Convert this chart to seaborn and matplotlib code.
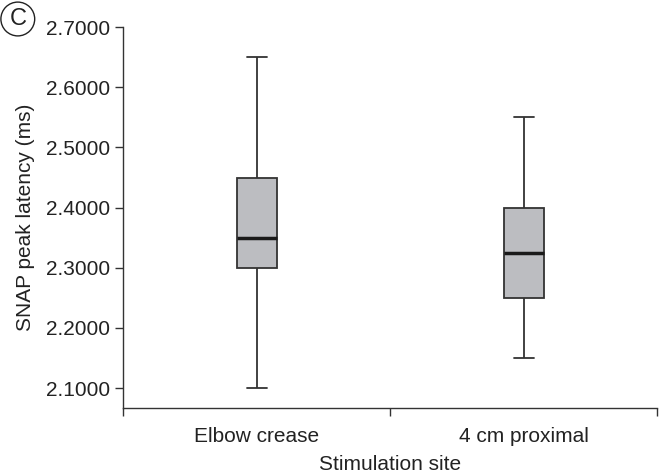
import numpy as np
import pandas as pd
import seaborn as sns
import matplotlib.pyplot as plt

sites = ["Elbow crease", "4 cm proximal"]
# five-number summaries: min, Q1, median, Q3, max
elbow_vals = [2.10, 2.30, 2.35, 2.45, 2.65]
proximal_vals = [2.15, 2.25, 2.325, 2.40, 2.55]
y_ticks = [2.1, 2.2, 2.3, 2.4, 2.5, 2.6, 2.7]

df = pd.DataFrame({
    "site": [sites[0]] * len(elbow_vals) + [sites[1]] * len(proximal_vals),
    "latency": elbow_vals + proximal_vals,
})

sns.set_style("white")
plt.rcParams["font.family"] = ["Liberation Sans", "DejaVu Sans"]

fig = plt.figure(figsize=(6.59, 4.75), dpi=100)
ax = fig.add_axes([0.187, 0.141, 0.81, 0.802])

sns.boxplot(
    data=df, x="site", y="latency", order=sites, ax=ax,
    whis=np.inf, width=0.15, color="#bcbdc1", saturation=1,
    linecolor="#333333", linewidth=1.3,
    medianprops={"color": "#1a1a1a", "linewidth": 2.5},
    capprops={"linewidth": 1.3},
)

ax.set_xlim(-0.5, 1.5)
ax.set_ylim(2.067, 2.70)
ax.set_yticks(y_ticks)
ax.set_yticklabels([f"{v:.4f}" for v in y_ticks])
ax.set_xticks([-0.5, 0.5, 1.5], minor=True)
ax.tick_params(axis="x", which="major", length=0, labelsize=15, pad=14, labelcolor="#222222")
ax.tick_params(axis="x", which="minor", bottom=True, length=6, width=1, color="#333333", direction="out")
ax.tick_params(axis="y", left=True, length=6, width=1, labelsize=15, color="#333333",
               labelcolor="#222222", direction="out")

for s in ["top", "right"]:
    ax.spines[s].set_visible(False)
for s in ["left", "bottom"]:
    ax.spines[s].set_color("#333333")
    ax.spines[s].set_linewidth(1)

ax.set_xlabel("Stimulation site", fontsize=15, color="#222222", labelpad=6)
ax.set_ylabel("SNAP peak latency (ms)", fontsize=15, color="#222222", labelpad=8)

fig.text(0.027, 0.96, "C", fontsize=17, ha="center", va="center", color="#222222",
         bbox=dict(boxstyle="circle,pad=0.25", fc="white", ec="#222222", lw=1))

fig.savefig("out.png", dpi=100)
